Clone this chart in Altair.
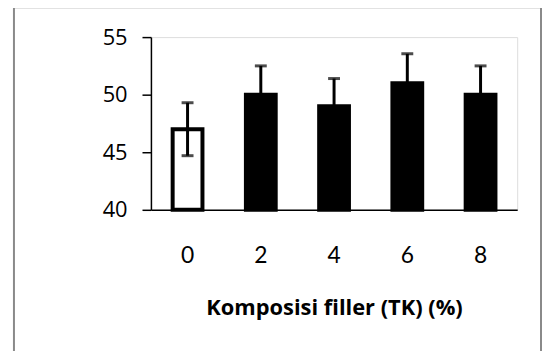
import altair as alt
import pandas as pd

categories = ["0", "2", "4", "6", "8"]
means = [47.0, 50.0, 49.0, 51.0, 50.0]
errors = [2.3, 2.5, 2.4, 2.55, 2.5]
fills = ["white", "black", "black", "black", "black"]
y_ticks = [40, 45, 50, 55]
x_title = "Komposisi filler (TK) (%)"

df = pd.DataFrame({
    "cat": categories,
    "mean": means,
    "base": [40] * len(categories),
    "lo": [m - e for m, e in zip(means, errors)],
    "hi": [m + e for m, e in zip(means, errors)],
    "fill": fills,
})

xscale = alt.Scale(domain=categories, paddingInner=0.593, paddingOuter=0.2965)
yscale = alt.Scale(domain=[40, 55], zero=False, nice=False)

x_enc = alt.X(
    "cat:N", scale=xscale, sort=categories,
    axis=alt.Axis(
        title=x_title, labelAngle=0, ticks=False, domainColor="black",
        domainWidth=1.5, labelFont="Lato", labelFontSize=23, labelColor="black",
        labelPadding=35, titleFont="Open Sans", titleFontWeight="bold", titleFontSize=22,
        titleColor="black", titlePadding=30,
    ),
)

bars = alt.Chart(df).mark_bar(stroke="black", strokeWidth=4).encode(
    x=x_enc,
    y=alt.Y(
        "mean:Q", scale=yscale,
        axis=alt.Axis(
            title=None, values=y_ticks, grid=False, domainColor="black",
            domainWidth=1.5, tickColor="black", tickWidth=1.5, tickSize=9,
            labelFont="Open Sans", labelFontSize=22, labelColor="black",
            labelPadding=15,
        ),
    ),
    y2="base:Q",
    fill=alt.Fill("fill:N", scale=None),
)

whisk = alt.Chart(df).mark_rule(color="black", strokeWidth=3).encode(
    x=alt.X("cat:N", scale=xscale, sort=categories),
    y=alt.Y("lo:Q", scale=yscale),
    y2="hi:Q",
)

cap_hi = alt.Chart(df).mark_tick(color="black", size=12, thickness=3).encode(
    x=alt.X("cat:N", scale=xscale, sort=categories),
    y=alt.Y("hi:Q", scale=yscale),
)
cap_lo = alt.Chart(df).mark_tick(color="black", size=12, thickness=3).encode(
    x=alt.X("cat:N", scale=xscale, sort=categories),
    y=alt.Y("lo:Q", scale=yscale),
)

border = alt.Chart(pd.DataFrame({"b": [0]})).mark_rect(
    fillOpacity=0, stroke="#8a8a8a", strokeWidth=2
).encode(
    x=alt.value(-138), x2=alt.value(393), y=alt.value(-30), y2=alt.value(400)
)

chart = alt.layer(bars, whisk, cap_hi, cap_lo, border).properties(
    width=369, height=174,
    autosize=alt.AutoSizeParams(type="none"),
    padding={"left": 144, "top": 28, "right": 25, "bottom": 150},
).configure_view(stroke=None).configure(background="white")

chart.save("out.html", embed_options={"renderer": "svg", "actions": False})
